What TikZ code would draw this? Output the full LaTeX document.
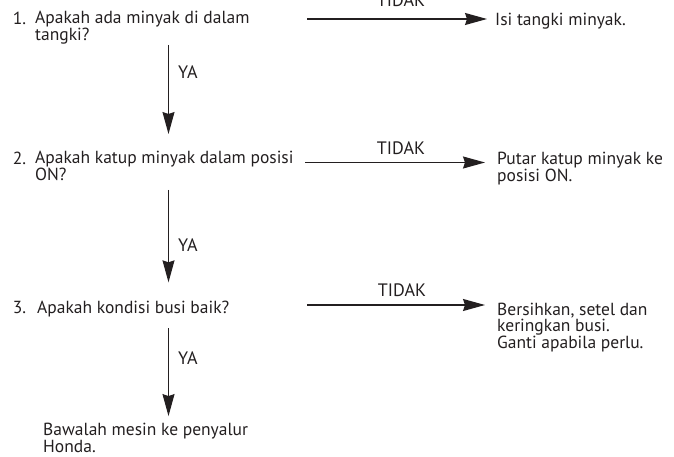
\documentclass[tikz,border=0pt]{standalone}
\usepackage{fontspec}
\setmainfont{PT Sans}
\usetikzlibrary{arrows.meta}
\definecolor{ink}{HTML}{231F20}
\tikzset{
  txt/.style={anchor=base west, inner sep=0pt, align=left, text=ink,
    font=\fontsize{17.5}{15.7}\selectfont},
  lbl/.style={anchor=base, inner sep=0pt, text=ink,
    font=\fontsize{18}{18}\selectfont},
  flow/.style={draw=ink, line width=1.3pt,
    -{Stealth[length=22pt, width=12pt, inset=2pt]}},
}
\begin{document}
\begin{tikzpicture}[x=1pt, y=-1pt]
  \useasboundingbox (0,0) rectangle (674,457);

  % questions (a multi-line node sits on the baseline of its last line,
  % lines are 15.7 apart)
  \node[txt] (n1) at (12.7,25) {1.};
  \node[txt] (q1) at (35,40.7) {Apakah ada minyak di dalam\\tangki?};
  \node[txt] (n2) at (12.7,165) {2.};
  \node[txt] (q2) at (35,180.7) {Apakah katup minyak dalam posisi\\ON?};
  \node[txt] (n3) at (12.7,313) {3.};
  \node[txt] (q3) at (37,313) {Apakah kondisi busi baik?};

  % actions
  \node[txt] (a1) at (495,26) {Isi tangki minyak.};
  \node[txt] (a2) at (497,181.7) {Putar katup minyak ke\\posisi ON.};
  \node[txt] (a3) at (497,348.4) {Bersihkan, setel dan\\keringkan busi.\\Ganti apabila perlu.};
  \node[txt] (a4) at (43,452.5) {Bawalah mesin ke penyalur\\Honda.};

  % arrow tails
  \coordinate (h1) at (307,19);
  \coordinate (h2) at (305,162.5);
  \coordinate (h3) at (307,305);
  \coordinate (v1) at (168.5,45);
  \coordinate (v2) at (168.5,190);
  \coordinate (v3) at (168.5,328);

  % "no" branches
  \draw[flow, shorten >=8pt] (h1) -- (h1 -| a1.west)
    node[lbl, pos=0.5, yshift=12pt] (t1) {TIDAK};
  \draw[flow, shorten >=12pt] (h2) -- (h2 -| a2.west)
    node[lbl, pos=0.5, yshift=7.5pt] (t2) {TIDAK};
  \draw[flow, shorten >=12pt] (h3) -- (h3 -| a3.west)
    node[lbl, pos=0.5, yshift=9pt] (t3) {TIDAK};

  % "yes" branches
  \draw[flow, line width=1.2pt, shorten >=17pt] (v1) -- (v1 |- q2.north);
  \draw[flow, line width=1.2pt, shorten >=18pt] (v2) -- (v2 |- q3.north);
  \draw[flow, line width=1.2pt, shorten >=7pt] (v3) -- (v3 |- a4.north);
  \node[lbl, anchor=base west] (y1) at (178,79) {YA};
  \node[lbl, anchor=base west] (y2) at (178,251) {YA};
  \node[lbl, anchor=base west] (y3) at (178,364) {YA};
\end{tikzpicture}
\end{document}
